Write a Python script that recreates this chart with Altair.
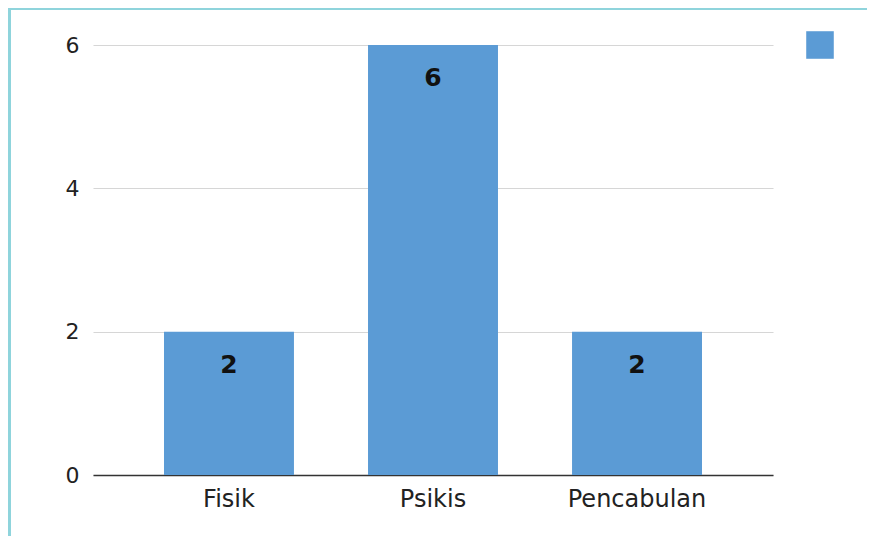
import altair as alt
import pandas as pd

categories = ["Fisik", "Psikis", "Pencabulan"]
values = [2, 6, 2]
series = ["Jumlah", "Jumlah", "Jumlah"]
y_ticks = [0, 2, 4, 6]

df = pd.DataFrame({"kategori": categories, "nilai": values, "seri": series})

BAR = "#5b9bd5"
BORDER = "#8fd4dc"

base = alt.Chart(df)

bars = base.mark_bar(clip=False).encode(
    x=alt.X("kategori:N", sort=categories, title=None,
            scale=alt.Scale(paddingInner=0.363, paddingOuter=0.348),
            axis=alt.Axis(labelAngle=0, labelFont="DejaVu Sans", labelFontSize=24,
                          labelColor="#222", labelPadding=12, ticks=False,
                          domainColor="#333", domainWidth=1.5, grid=False)),
    y=alt.Y("nilai:Q", title=None, scale=alt.Scale(domain=[0, 6], nice=False),
            axis=alt.Axis(values=y_ticks, format="d", labelFont="DejaVu Sans", labelFontSize=22,
                          labelColor="#222", labelPadding=14, ticks=False, domain=False,
                          grid=True, gridColor="#d6d6d6", gridWidth=1.2)),
    color=alt.Color("seri:N", scale=alt.Scale(range=[BAR]),
                    legend=alt.Legend(orient="none", legendX=713, legendY=-14, title=None,
                                      symbolType="square", symbolSize=760,
                                      symbolStrokeWidth=0, labelExpr="''", padding=0,
                                      symbolOpacity=1)),
)

labels = base.mark_text(font="DejaVu Sans", fontWeight="bold", fontSize=25,
                        color="#111", baseline="middle", dy=33).encode(
    x=alt.X("kategori:N", sort=categories),
    y=alt.Y("nilai:Q"),
    text=alt.Text("nilai:Q"),
)

border_df = pd.DataFrame({"k": [0]})
left_border = alt.Chart(border_df).mark_rule(color=BORDER, strokeWidth=3, clip=False).encode(
    x=alt.value(-83.5), y=alt.value(-37), y2=alt.value(491))
top_border = alt.Chart(border_df).mark_rule(color=BORDER, strokeWidth=2, clip=False).encode(
    x=alt.value(-85), x2=alt.value(774), y=alt.value(-36))

chart = alt.layer(bars, labels, left_border, top_border).properties(
    width=680, height=430,
    padding={"left": 85, "top": 37, "right": 94, "bottom": 61},
    autosize=alt.AutoSizeParams(type="none"),
).configure(background="white").configure_view(stroke=None)

chart.save("out.html", embed_options={"renderer": "svg", "actions": False})
